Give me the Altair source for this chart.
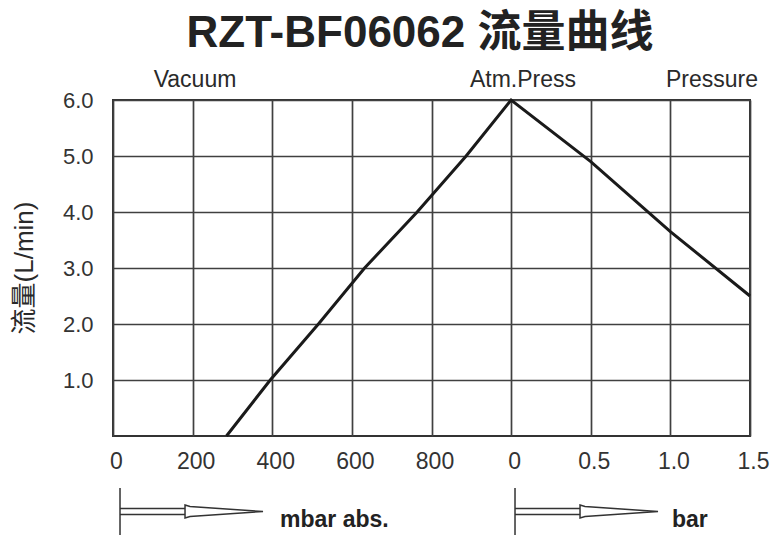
import json
import altair as alt
import pandas as pd

# ---- data ----
title_text = "RZT-BF06062 流量曲线"
y_title = "流量(L/min)"
x_tick_labels = ["0", "200", "400", "600", "800", "0", "0.5", "1.0", "1.5"]
y_ticks = [1, 2, 3, 4, 5, 6]
region_labels = ["Vacuum", "Atm.Press", "Pressure"]
unit_labels = ["mbar abs.", "bar"]

vac_mbar = [285, 395, 516, 632, 764, 887, 1000]
vac_flow = [0.0, 1.0, 2.0, 3.0, 4.0, 5.0, 6.0]
pr_bar = [0.5, 1.0, 1.5]
pr_flow = [4.9, 3.65, 2.5]

# piecewise axis: 0..1000 mbar abs -> 0..5, 0..1.5 bar -> 5..8
pos = [m / 200 for m in vac_mbar] + [5 + b / 0.5 for b in pr_bar]
flow = vac_flow + pr_flow
line_df = pd.DataFrame({"pos": pos, "flow": flow, "order": list(range(len(pos)))})
one = pd.DataFrame({"_": [0]})

FONT = "Liberation Sans"
TFONT = "Liberation Sans, Noto Sans CJK SC"
W, H = 637, 336

x_enc = alt.X(
    "pos:Q",
    scale=alt.Scale(domain=[0, 8], nice=False, zero=False),
    axis=alt.Axis(
        values=list(range(9)),
        labelExpr=json.dumps(x_tick_labels) + "[datum.value]",
        title=None, ticks=False, domain=False, grid=True,
        labelPadding=14, labelFontSize=23, labelFont=FONT, labelColor="#333",
        labelFlush=False, labelOverlap=False, labelOffset=3,
        gridColor="#404040", gridWidth=1.7, gridOpacity=1,
    ),
)
y_enc = alt.Y(
    "flow:Q",
    scale=alt.Scale(domain=[0, 6], nice=False),
    axis=alt.Axis(
        values=y_ticks, format=".1f", title=None, ticks=False, domain=False,
        grid=True, labelPadding=20, labelFontSize=22, labelFont=FONT,
        labelColor="#333", gridColor="#404040", gridWidth=1.7, gridOpacity=1,
    ),
)

line = alt.Chart(line_df).mark_line(color="#1a1a1a", strokeWidth=3).encode(
    x=x_enc, y=y_enc, order="order:Q"
)


def label(text, x, y, size, weight="normal", align="center", angle=0, font=FONT, color="#2a2a2a"):
    return alt.Chart(one).mark_text(
        text=text, fontSize=size, fontWeight=weight, align=align,
        baseline="middle", font=font, color=color, angle=angle,
    ).encode(x=alt.value(x), y=alt.value(y))


ARROW = (
    "M -0.986 -0.326 L -0.986 0.326 "
    "M -0.986 -0.042 L -0.083 -0.042 M -0.986 0.042 L -0.083 0.042 "
    "M -0.083 -0.09 L -0.014 -0.069 L 1 0 L -0.014 0.069 L -0.083 0.09 Z"
)


def arrow(x, y):
    return alt.Chart(one).mark_point(
        shape=ARROW, size=144 ** 2, filled=False, color="#333",
        strokeWidth=1.5, opacity=1,
    ).encode(x=alt.value(x), y=alt.value(y))


chart = alt.layer(
    line,
    label(title_text, 307, -66, 44, weight="bold", font=TFONT, color="#222"),
    label(y_title, -88, 168, 26, angle=270, font=TFONT),
    label(region_labels[0], 82, -20, 23),
    label(region_labels[1], 410, -20, 23),
    label(region_labels[2], 599, -20, 23),
    arrow(78, 411.5),
    arrow(473, 411.5),
    label(unit_labels[0], 167, 420, 23, weight="bold", align="left", color="#222"),
    label(unit_labels[1], 559, 420, 23, weight="bold", align="left", color="#222"),
).properties(
    width=W, height=H,
    autosize=alt.AutoSizeParams(type="none"),
    padding={"left": 105, "top": 92, "right": 24, "bottom": 102},
).configure_view(stroke="#333", strokeWidth=2)

chart.save("out.html", embed_options={"renderer": "svg", "actions": False})
